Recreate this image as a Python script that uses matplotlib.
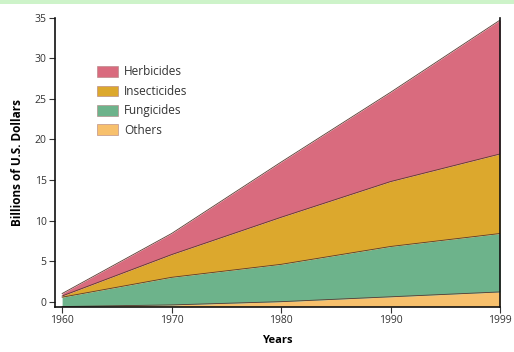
import numpy as np
import matplotlib
matplotlib.use("Agg")
import matplotlib.pyplot as plt
from matplotlib.patches import Rectangle

# data (billions of US dollars, stacked from the bottom)
years = ["1960", "1970", "1980", "1990", "1999"]
others = [0.0, 0.2, 0.6, 1.2, 1.8]
fungicides = [1.15, 3.4, 4.6, 6.2, 7.2]
insecticides = [0.15, 2.8, 5.8, 8.0, 9.8]
herbicides = [0.3, 2.6, 6.8, 11.0, 16.5]
base = -0.6  # the stack sits on the bottom spine, a bit under zero

labels = ["Others", "Fungicides", "Insecticides", "Herbicides"]
colors = ["#f7c06c", "#6db38b", "#dca82d", "#d96b7e"]

plt.rcParams['font.family'] = ['Open Sans', 'DejaVu Sans']

fig = plt.figure(figsize=(5.14, 3.52), dpi=100)
ax = fig.add_axes([0.107, 0.128, 0.866, 0.822])

# pale green strip at the very top of the picture
fig.add_artist(Rectangle((0, 0.99), 1, 0.01, transform=fig.transFigure,
                         color="#cdf3c9", lw=0))

x = np.arange(len(years))
layers = [others, fungicides, insecticides, herbicides]
bottom = np.full(len(years), base)
for vals, c, lab in zip(layers, colors, labels):
    top = bottom + np.array(vals)
    ax.fill_between(x, bottom, top, color=c, lw=0, label=lab)
    ax.plot(x, top, color="#5a3a30", lw=0.6)
    bottom = top

ax.set_xlim(-0.065, 4)
ax.set_ylim(-0.65, 35)
ax.set_xticks(x)
ax.set_xticklabels(years)
ax.set_yticks(np.arange(0, 36, 5))

ax.spines["top"].set_visible(False)
for s in ["left", "bottom", "right"]:
    ax.spines[s].set_linewidth(1.2)
    ax.spines[s].set_color("#111111")
ax.tick_params(axis="both", direction="out", length=4, width=0.8,
               labelsize=7.5, labelcolor="#333333", color="#333333", pad=2)

ax.set_xlabel("Years", fontsize=8, fontweight="bold", labelpad=6)
ax.set_ylabel("Billions of U.S. Dollars", fontsize=8.5, fontweight="bold",
              labelpad=8)

leg_handles = [Rectangle((0, 0), 1, 1, facecolor=c, edgecolor="#b08080", lw=0.4)
               for c in colors]
ax.legend(leg_handles[::-1], labels[::-1], loc="upper left",
          bbox_to_anchor=(0.094, 0.835), frameon=False, fontsize=8.5,
          handlelength=1.8, handleheight=1.0, labelspacing=0.55,
          handletextpad=0.5, borderpad=0, borderaxespad=0,
          labelcolor="#333333")

fig.savefig("out.png", dpi=100, facecolor="white")
